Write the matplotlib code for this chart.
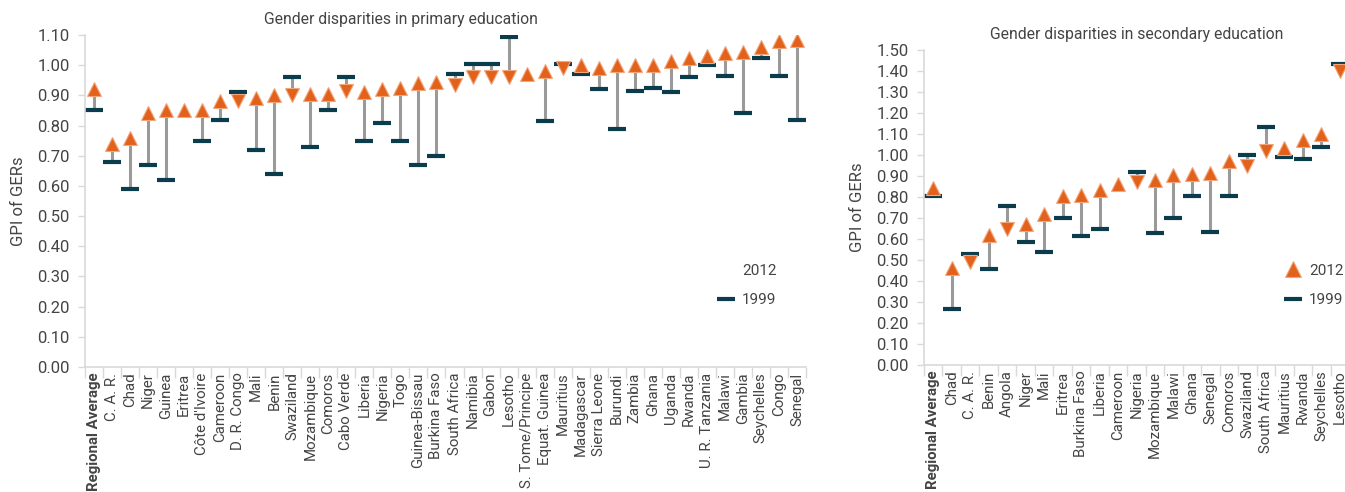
import numpy as np
import matplotlib
matplotlib.use('Agg')
import matplotlib.pyplot as plt
from matplotlib.lines import Line2D

plt.rcParams['font.family'] = ['Roboto', 'DejaVu Sans']

# Gender parity index of gross enrolment ratios
primary_countries = ['Regional Average', 'C. A. R.', 'Chad', 'Niger', 'Guinea', 'Eritrea',
                     "Côte d'Ivoire", 'Cameroon', 'D. R. Congo', 'Mali', 'Benin', 'Swaziland',
                     'Mozambique', 'Comoros', 'Cabo Verde', 'Liberia', 'Nigeria', 'Togo',
                     'Guinea-Bissau', 'Burkina Faso', 'South Africa', 'Namibia', 'Gabon',
                     'Lesotho', 'S. Tome/Principe', 'Equat. Guinea', 'Mauritius', 'Madagascar',
                     'Sierra Leone', 'Burundi', 'Zambia', 'Ghana', 'Uganda', 'Rwanda',
                     'U. R. Tanzania', 'Malawi', 'Gambia', 'Seychelles', 'Congo', 'Senegal']
primary_2012 = [0.92, 0.74, 0.76, 0.84, 0.85, 0.85, 0.85, 0.88, 0.88, 0.89, 0.90, 0.90,
                0.905, 0.905, 0.915, 0.91, 0.92, 0.925, 0.94, 0.945, 0.935, 0.96, 0.96,
                0.96, 0.97, 0.98, 0.99, 1.00, 0.99, 1.00, 1.00, 1.00, 1.015, 1.025,
                1.03, 1.04, 1.045, 1.06, 1.08, 1.085]
primary_1999 = [0.85, 0.68, 0.59, 0.67, 0.62, np.nan, 0.75, 0.82, 0.91, 0.72, 0.64, 0.96,
                0.73, 0.85, 0.96, 0.75, 0.81, 0.75, 0.67, 0.70, 0.97, 1.005, 1.005,
                1.095, np.nan, 0.815, 1.005, 0.97, 0.92, 0.79, 0.915, 0.925, 0.91, 0.96,
                1.00, 0.965, 0.84, 1.025, 0.965, 0.82]

secondary_countries = ['Regional Average', 'Chad', 'C. A. R.', 'Benin', 'Angola', 'Niger',
                       'Mali', 'Eritrea', 'Burkina Faso', 'Liberia', 'Cameroon', 'Nigeria',
                       'Mozambique', 'Malawi', 'Ghana', 'Senegal', 'Comoros', 'Swaziland',
                       'South Africa', 'Mauritius', 'Rwanda', 'Seychelles', 'Lesotho']
secondary_2012 = [0.845, 0.46, 0.49, 0.62, 0.65, 0.67, 0.72, 0.805, 0.81, 0.835, 0.86,
                  0.87, 0.88, 0.905, 0.91, 0.915, 0.97, 0.95, 1.02, 1.035, 1.07, 1.10, 1.40]
secondary_1999 = [0.805, 0.265, 0.53, 0.455, 0.755, 0.585, 0.54, 0.70, 0.615, 0.65, np.nan,
                  0.92, 0.63, 0.70, 0.805, 0.635, 0.805, 1.00, 1.135, 0.99, 0.98, 1.04, 1.435]

ORANGE = '#E2621B'
EDGE = '#F3A67C'
DARK = '#0B3C4C'
GREY = '#9A9A9A'
TEXT = '#444444'
SPINE = '#D9D9D9'


def draw_panel(ax, countries, v2012, v1999, ymax, title, title_x):
    x = np.arange(len(countries))
    a = np.array(v2012, dtype=float)
    b = np.array(v1999, dtype=float)

    # connector from 1999 to 2012
    ok = ~np.isnan(b)
    ax.vlines(x[ok], b[ok], a[ok], color=GREY, lw=2.2, zorder=1)
    ax.plot(x, b, linestyle='none', marker='_', markersize=13, mew=3,
            color=DARK, zorder=2)
    up = np.isnan(b) | (a >= b)
    ax.plot(x[up], a[up], linestyle='none', marker='^', markersize=10.5,
            color=ORANGE, mec=EDGE, mew=0.8, zorder=3)
    ax.plot(x[~up], a[~up], linestyle='none', marker='v', markersize=10.5,
            color=ORANGE, mec=EDGE, mew=0.8, zorder=3)

    ax.set_xlim(-0.5, len(countries) - 0.5)
    ax.set_ylim(0, ymax)
    ticks = np.arange(0, ymax + 0.001, 0.1)
    ax.set_yticks(ticks)
    ax.set_yticklabels(['%.2f' % t for t in ticks])
    ax.set_xticks(x)
    ax.set_xticklabels(countries, rotation=90, ha='center', va='top')
    ax.get_xticklabels()[0].set_fontweight('bold')
    ax.get_xticklabels()[0].set_color('#222222')
    ax.set_xticks(np.arange(-0.5, len(countries), 1.0), minor=True)

    ax.tick_params(axis='x', which='major', length=0, pad=4, labelsize=10.8,
                   labelcolor=TEXT)
    ax.tick_params(axis='x', which='minor', length=8, width=1, color=SPINE)
    ax.tick_params(axis='y', length=5, width=1, color=SPINE, labelsize=12,
                   labelcolor=TEXT, pad=6)
    for s in ['top', 'right']:
        ax.spines[s].set_visible(False)
    for s in ['left', 'bottom']:
        ax.spines[s].set_color(SPINE)
        ax.spines[s].set_linewidth(1.2)

    ax.set_ylabel('GPI of GERs', fontsize=12, color=TEXT, labelpad=8)
    ax.set_title(title, fontsize=11.3, color=TEXT, pad=8, x=title_x)


fig = plt.figure(figsize=(13.45, 4.92), dpi=100)
W, H = 1345.0, 492.0

ax1 = fig.add_axes([85 / W, 1 - 367 / H, (806 - 85) / W, (367 - 35) / H])
draw_panel(ax1, primary_countries, primary_2012, primary_1999, 1.10,
           'Gender disparities in primary education', (401 - 85) / (806 - 85))

ax2 = fig.add_axes([924 / W, 1 - 365 / H, (1349 - 924) / W, (365 - 50) / H])
draw_panel(ax2, secondary_countries, secondary_2012, secondary_1999, 1.50,
           'Gender disparities in secondary education', 0.5)

bar_handle = Line2D([], [], linestyle='none', marker='_', markersize=13, mew=3, color=DARK)
tri_handle = Line2D([], [], linestyle='none', marker='^', markersize=11,
                    color=ORANGE, mec=EDGE, mew=0.8)
blank_handle = Line2D([], [], linestyle='none')

ax1.legend([blank_handle, bar_handle], ['2012', '1999'], loc='upper left',
           bbox_to_anchor=(709 / W, 1 - 256 / H), bbox_transform=fig.transFigure,
           frameon=False, fontsize=11, labelcolor=TEXT, handlelength=1.25,
           handletextpad=0.4, labelspacing=1.0, borderpad=0)
ax2.legend([tri_handle, bar_handle], ['2012', '1999'], loc='upper left',
           bbox_to_anchor=(1276 / W, 1 - 256 / H), bbox_transform=fig.transFigure,
           frameon=False, fontsize=11, labelcolor=TEXT, handlelength=1.25,
           handletextpad=0.4, labelspacing=1.0, borderpad=0)

fig.savefig('out.png', dpi=100)
